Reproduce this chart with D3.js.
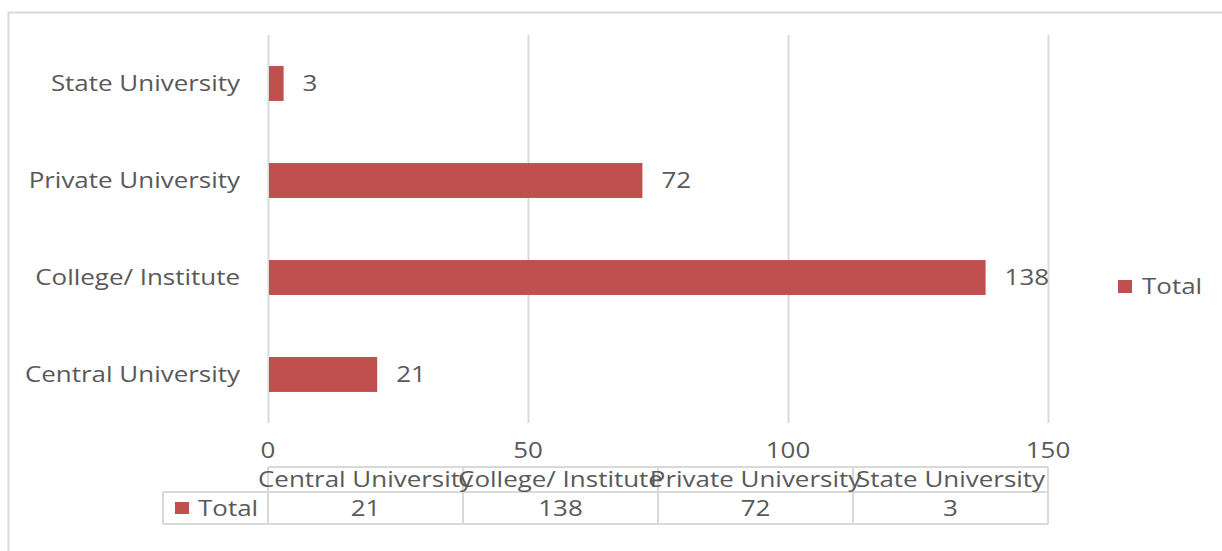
<!DOCTYPE html>
<html>
<head>
<meta charset="utf-8">
<script src="https://cdn.jsdelivr.net/npm/d3@7"></script>
<style>
  html, body { margin: 0; padding: 0; background: #fff; }
  svg { display: block; }
  text { font-family: "Open Sans", "Noto Sans", sans-serif; fill: #595959; font-size: 22px; }
</style>
</head>
<body>
<svg id="chart" width="1222" height="551"></svg>
<script>
// Institution types, listed bottom-to-top as plotted
const categories = ["Central University", "College/ Institute", "Private University", "State University"];
const totals = [21, 138, 72, 3];
const seriesName = "Total";
const xTicks = [0, 50, 100, 150];

const barColor = "#c0504d";
const gridColor = "#d9d9d9";
const textStretch = 1.18; // wide lettering
const textDrop = 2;       // optical centring of middle-baseline text

const svg = d3.select("#chart");

// place a text element at (px, py) with the horizontal stretch applied
function place(sel, px, py) {
  const val = (f, d, i) => (typeof f === "function" ? f(d, i) : f);
  return sel
    .attr("x", 0).attr("y", 0)
    .attr("transform", (d, i) => `translate(${val(px, d, i)},${val(py, d, i) + textDrop}) scale(${textStretch},1)`)
    .attr("dominant-baseline", "middle");
}

// chart frame
svg.append("path")
  .attr("d", "M8.5,551 V12.5 H1222")
  .attr("fill", "none")
  .attr("stroke", "#d9d9d9")
  .attr("stroke-width", 2);

const plot = { left: 268, right: 1048, top: 35, bottom: 423 };

const x = d3.scaleLinear().domain([0, 150]).range([plot.left, plot.right]);
const y = d3.scaleBand()
  .domain(categories.slice().reverse())
  .range([plot.top, plot.bottom])
  .paddingInner(0.64)
  .paddingOuter(0.32);

// vertical gridlines
const xAxis = d3.axisBottom(x).tickValues(xTicks).tickSize(-(plot.bottom - plot.top)).tickFormat("");
const gx = svg.append("g").attr("transform", `translate(0,${plot.bottom})`).call(xAxis);
gx.select(".domain").remove();
gx.selectAll(".tick line").attr("stroke", gridColor).attr("stroke-width", 2);

// tick labels
svg.append("g").selectAll("text")
  .data(xTicks)
  .join("text")
  .call(place, d => x(d), 450)
  .attr("text-anchor", "middle")
  .text(d => d);

// category labels
svg.append("g").selectAll("text")
  .data(categories)
  .join("text")
  .call(place, plot.left - 28, d => y(d) + y.bandwidth() / 2)
  .attr("text-anchor", "end")
  .text(d => d);

// bars
const data = categories.map((c, i) => ({ c, v: totals[i] }));
svg.append("g").selectAll("rect")
  .data(data)
  .join("rect")
  .attr("x", x(0) + 1)
  .attr("y", d => y(d.c))
  .attr("width", d => x(d.v) - x(0) - 1)
  .attr("height", y.bandwidth())
  .attr("fill", barColor);

// value labels
svg.append("g").selectAll("text")
  .data(data)
  .join("text")
  .call(place, d => x(d.v) + 19, d => y(d.c) + y.bandwidth() / 2)
  .text(d => d.v);

// legend
const legend = svg.append("g").attr("transform", "translate(1118,286)");
legend.append("rect").attr("x", 0).attr("y", -6).attr("width", 14).attr("height", 13).attr("fill", barColor);
legend.append("text").call(place, 24, 0).text(seriesName);

// data table
const table = svg.append("g");
const cellW = (plot.right - plot.left) / categories.length;
const rowTop = 467, rowMid = 492, rowBot = 524, keyLeft = 163;
const line = (x1, y1, x2, y2) => table.append("line")
  .attr("x1", x1).attr("y1", y1).attr("x2", x2).attr("y2", y2)
  .attr("stroke", gridColor).attr("stroke-width", 2);

line(plot.left, rowTop, plot.right, rowTop);
line(keyLeft, rowMid, plot.right, rowMid);
line(keyLeft, rowBot, plot.right, rowBot);
line(keyLeft, rowMid, keyLeft, rowBot);
categories.forEach((c, i) => line(plot.left + i * cellW, rowTop, plot.left + i * cellW, rowBot));
line(plot.right, rowTop, plot.right, rowBot);

table.selectAll("text.head")
  .data(categories)
  .join("text")
  .attr("class", "head")
  .call(place, (d, i) => plot.left + (i + 0.5) * cellW, (rowTop + rowMid) / 2)
  .attr("text-anchor", "middle")
  .text(d => d);

table.selectAll("text.val")
  .data(totals)
  .join("text")
  .attr("class", "val")
  .call(place, (d, i) => plot.left + (i + 0.5) * cellW, (rowMid + rowBot) / 2)
  .attr("text-anchor", "middle")
  .text(d => d);

table.append("rect").attr("x", 175).attr("y", 502).attr("width", 14).attr("height", 12).attr("fill", barColor);
table.append("text").call(place, 198, (rowMid + rowBot) / 2).text(seriesName);
</script>
</body>
</html>
